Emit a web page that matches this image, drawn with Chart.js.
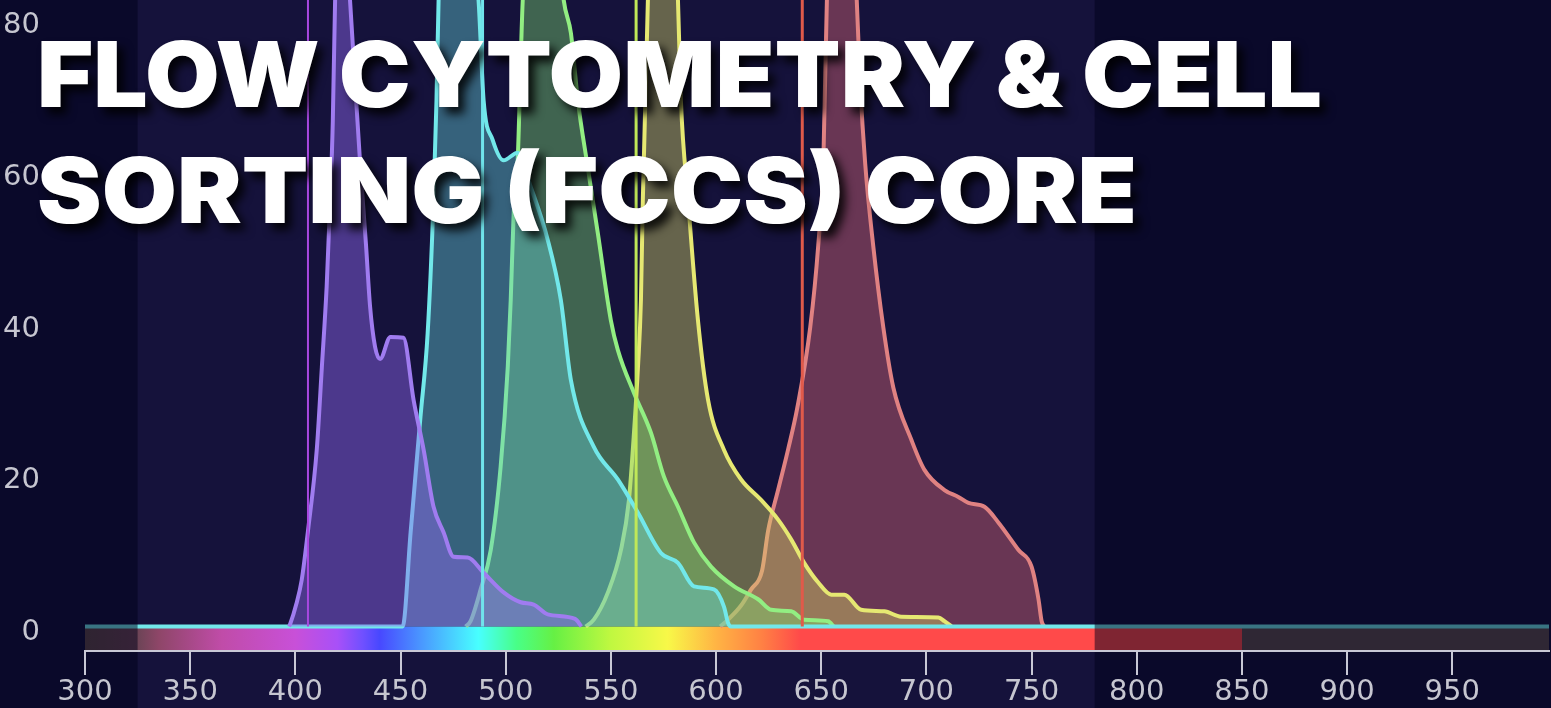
<!DOCTYPE html>
<html>
<head>
<meta charset="utf-8">
<script src="https://cdn.jsdelivr.net/npm/chart.js@4.4.0/dist/chart.umd.min.js"></script>
<style>
    html, body { margin: 0; padding: 0; background: #0a0926; }
    #wrap { position: relative; width: 1551px; height: 708px; overflow: hidden; }
    #myChart { position: absolute; left: 0; top: 0; }
    .title-line {
        position: absolute;
        left: 37px;
        white-space: nowrap;
        color: #fff;
        font-family: Inter, 'Noto Sans', sans-serif;
        font-weight: 900;
        font-size: 91px;
        line-height: 91px;
        transform-origin: 0 0;
        text-shadow: 6px 7px 9px rgba(0, 0, 0, 0.85);
        pointer-events: none;
    }
</style>
</head>
<body>
<div id="wrap">
    <canvas id="myChart" width="1551" height="708"></canvas>
    <div class="title-line" id="line1" style="top:29px">FLOW CYTOMETRY &amp; CELL</div>
    <div class="title-line" id="line2" style="top:145px">SORTING (FCCS) CORE</div>
</div>
<script>
// axis ticks
const xTicks = [300, 350, 400, 450, 500, 550, 600, 650, 700, 750, 800, 850, 900, 950];
const yTicks = [0, 20, 40, 60, 80];

// laser lines (nm)
const laserLines = [406, 489, 562, 641];

// emission spectra [nm, % intensity]
const violetEm = [[397, 0], [397.5, 0.3], [400.5, 3], [403, 6.1], [406, 12.6], [410.2, 23.4], [412.6, 34.2],
    [414.9, 44.9], [416.5, 55.7], [417.8, 66.6], [418.9, 82.6], [421.5, 100], [426, 82.6], [428.4, 71.8],
    [430.8, 61.1], [433.6, 50.3], [435.5, 42.3], [437.9, 36.9], [440.3, 35.3], [445.2, 38.2], [451.4, 38.1],
    [456.2, 29.9], [461, 23.3], [465.7, 15.8], [470.5, 12.4], [475.2, 9.2], [481.9, 9.1], [489.5, 7.1],
    [499, 4.5], [507.1, 3.2], [513.3, 2.9], [520, 1.6], [533, 1], [536, 0]];

const cyanEm = [[300, 0], [451, 0], [454.8, 12.4], [459.5, 27.7], [462.9, 38.7], [465.7, 56.3], [467.1, 69.4],
    [468.1, 82.6], [472, 96], [477, 100], [482, 96], [487.1, 82.6], [489.5, 69.4], [493.8, 64.2], [499, 61.5],
    [505.7, 62.5], [511.9, 58.0], [520, 51.0], [526.2, 43.1], [531, 32.5], [541.9, 23.7], [553.3, 19.4],
    [562.9, 15.0], [573.8, 9.7], [581.9, 8.4], [589.5, 5.3], [599, 4.9], [603.8, 2.6], [605.7, 0.5], [607, 0], [996, 0]];

const greenEm = [[481, 0], [483.3, 0.7], [488.1, 4.9], [492.9, 10.1], [497.6, 21.1], [501, 34.3], [502.4, 43.1],
    [503.8, 54.5], [505.7, 61.5], [508.1, 82.6], [512, 96], [518, 100], [523, 96], [527.6, 82.6], [531, 78.3],
    [534.3, 69.4], [539, 60.6], [543.8, 51.9], [550, 40.4], [553.3, 36.5], [561, 30.8], [569, 25.6],
    [575.2, 19.8], [581.9, 15.8], [589.5, 11.1], [597.6, 7.9], [608.6, 5.3], [620, 3.6], [626.2, 2.2],
    [635.7, 2.0], [641.9, 0.9], [653.3, 0.7], [656, 0]];

const yellowEm = [[538, 0], [541.9, 0.9], [548.6, 4.5], [554.8, 10.1], [558.6, 16.7], [561, 25.6], [562.9, 34.3],
    [564.3, 43.1], [565.2, 56.3], [567.6, 82.6], [571, 97], [575, 100], [579, 96], [581.9, 82.6], [583.3, 69.4],
    [586.7, 56.3], [591.4, 40.4], [596.2, 29.9], [603.8, 23.3], [611.9, 19.4], [621.4, 16.7], [629.5, 14.1],
    [635.7, 11.5], [641.9, 8.4], [648.6, 5.8], [654.8, 4.2], [661, 4.2], [669, 2.2], [680, 2.0], [688, 1.3],
    [705.7, 1.2], [708.6, 0.7], [712, 0]];

const redEm = [[602, 0], [605.7, 0.9], [612, 2.8], [616.7, 4.9], [621.9, 7.4], [624.8, 12.7], [629.5, 18.0],
    [634.3, 23.4], [638.6, 28.8], [644.8, 39.5], [648.6, 50.3], [651, 61.1], [652.7, 82.6], [656.5, 98],
    [660, 100], [663.5, 97], [666.9, 82.6], [668.5, 71.8], [670.9, 61.1], [674.7, 50.3], [679.5, 39.5],
    [684.3, 31.5], [692.9, 24.6], [699, 20.7], [708.6, 18.0], [715.2, 17.1], [720, 16.3], [727.6, 15.8],
    [734.3, 13.7], [743.8, 10.1], [750, 7.9], [753.3, 3.6], [754.8, 0.7], [756, 0]];

// visible range shown lighter, colour bar under the axis
const visibleRange = [325, 780];
const spectrumStops = [[300, '#5e4848'], [325, '#6c4456'], [335, '#8e4668'], [365, '#c04ca8'], [400, '#c850d8'],
    [420, '#a850f8'], [432, '#7050ff'], [440, '#4848ff'], [460, '#4a98ff'], [487, '#48ffff'], [505, '#48ff88'],
    [523, '#66f044'], [550, '#c0f840'], [577, '#f8f848'], [600, '#ffb444'], [622, '#ff8044'], [640, '#ff4a4a'],
    [850, '#ff4a4a'], [850, '#5e4e4e'], [996, '#5e4e4e']];

const MID = '#15123b';
const SHADE = 'rgba(0, 0, 25, 0.5)';

function emission(points, line, fill) {
    return {
        data: points.map(p => ({ x: p[0], y: p[1] })),
        borderColor: line,
        backgroundColor: fill,
        borderWidth: 4,
        fill: 'origin',
        pointRadius: 0,
        cubicInterpolationMode: 'monotone'
    };
}

function laser(nm, color, width) {
    return {
        data: [{ x: nm, y: 0 }, { x: nm, y: 100 }],
        borderColor: color,
        borderWidth: width,
        pointRadius: 0,
        fill: false
    };
}

const spectrumPlugin = {
    id: 'spectrumPlugin',
    beforeDraw(chart) {
        const { ctx, chartArea: ca, scales: { x } } = chart;
        const W = chart.width, H = chart.height;
        const xl = x.getPixelForValue(visibleRange[0]);
        const xr = x.getPixelForValue(visibleRange[1]);
        ctx.save();
        ctx.fillStyle = MID;
        ctx.fillRect(0, 0, W, H);
        ctx.fillStyle = SHADE;
        ctx.fillRect(0, 0, ca.left, H);
        ctx.fillRect(ca.left, ca.bottom, xl - ca.left, H - ca.bottom);
        ctx.fillRect(xr, ca.bottom, W - xr, H - ca.bottom);
        ctx.fillRect(ca.right, 0, W - ca.right, ca.bottom);
        ctx.restore();
    },
    beforeDatasetsDraw(chart) {
        const { ctx, chartArea: ca, scales: { x, y } } = chart;
        const y0 = y.getPixelForValue(0);
        const g = ctx.createLinearGradient(ca.left, 0, ca.right, 0);
        spectrumStops.forEach(([nm, c]) => {
            g.addColorStop(Math.min(1, Math.max(0, (x.getPixelForValue(nm) - ca.left) / ca.width)), c);
        });
        ctx.save();
        ctx.fillStyle = g;
        ctx.fillRect(ca.left, y0, ca.width, ca.bottom - y0 - 1);
        ctx.restore();
    },
    afterDatasetsDraw(chart) {
        const { ctx, chartArea: ca, scales: { x } } = chart;
        const xl = x.getPixelForValue(visibleRange[0]);
        const xr = x.getPixelForValue(visibleRange[1]);
        ctx.save();
        ctx.fillStyle = SHADE;
        ctx.fillRect(ca.left, ca.top, xl - ca.left, ca.height - 1);
        ctx.fillRect(xr, ca.top, ca.right - xr, ca.height - 1);
        ctx.restore();
    }
};

const tickFont = { family: 'DejaVu Sans', size: 29, lineHeight: 1 };
const yMin = -3.23, yMax = 82.65;
const labelShift = 0.75; // the value labels sit a little under their tick

const chart = new Chart(document.getElementById('myChart').getContext('2d'), {
    type: 'line',
    data: {
        datasets: [
            laser(laserLines[0], '#a848e0', 2),
            laser(laserLines[1], '#70e4ec', 3),
            laser(laserLines[2], '#c0e858', 3),
            laser(laserLines[3], '#e05a4a', 3),
            emission(violetEm, '#a07cf0', 'rgba(145, 105, 240, 0.45)'),
            emission(cyanEm, '#72e8ea', 'rgba(100, 210, 215, 0.42)'),
            emission(greenEm, '#92ee82', 'rgba(125, 215, 110, 0.42)'),
            emission(yellowEm, '#e6e872', 'rgba(215, 215, 100, 0.42)'),
            emission(redEm, '#e08282', 'rgba(215, 100, 115, 0.44)')
        ]
    },
    options: {
        responsive: false,
        animation: false,
        layout: { padding: { left: 0, right: 2, top: 0, bottom: 0 } },
        plugins: {
            legend: { display: false },
            tooltip: { enabled: false }
        },
        scales: {
            x: {
                type: 'linear',
                min: 300,
                max: 996,
                afterBuildTicks: s => { s.ticks = xTicks.map(v => ({ value: v })); },
                afterFit: s => { s.height = 57; s.paddingLeft = 0; s.paddingRight = 0; },
                grid: { drawOnChartArea: false, color: '#c8c8d6', lineWidth: 2, tickLength: 24 },
                border: { color: '#c8c8d6', width: 2 },
                ticks: { color: '#c6c6d0', font: tickFont, padding: 3, maxRotation: 0, autoSkip: false }
            },
            y: {
                type: 'linear',
                display: false,
                min: yMin,
                max: yMax
            },
            yLabels: {
                type: 'linear',
                axis: 'y',
                position: 'left',
                min: yMin + labelShift,
                max: yMax + labelShift,
                afterBuildTicks: s => { s.ticks = yTicks.map(v => ({ value: v })); },
                afterFit: s => { s.width = 85; s.paddingTop = 0; s.paddingBottom = 0; },
                grid: { display: false, drawTicks: false },
                border: { display: false },
                ticks: { color: '#c6c6d0', font: tickFont, padding: 45 }
            }
        }
    },
    plugins: [spectrumPlugin]
});

// stretch the heading lines to the width they have in the picture
function fitTitle() {
    [['line1', 1285], ['line2', 1100]].forEach(([id, w]) => {
        const el = document.getElementById(id);
        el.style.transform = 'none';
        const cur = el.getBoundingClientRect().width;
        el.style.transform = `scaleX(${w / cur})`;
    });
}
fitTitle();
if (document.fonts) document.fonts.ready.then(fitTitle);
</script>
</body>
</html>
